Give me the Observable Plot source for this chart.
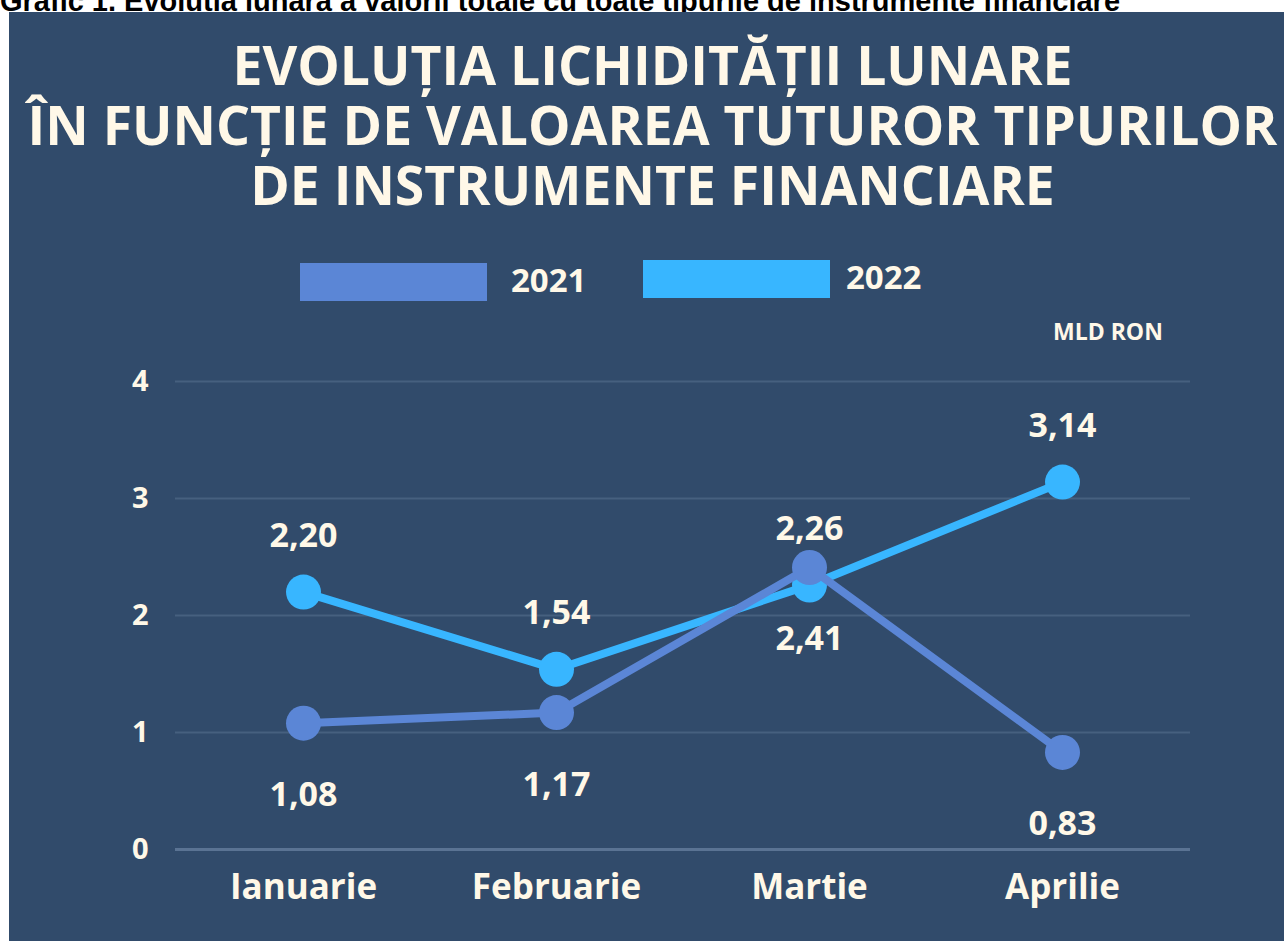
<!DOCTYPE html>
<html>
<head>
<meta charset="utf-8">
<script src="https://cdn.jsdelivr.net/npm/d3@7"></script>
<script src="https://cdn.jsdelivr.net/npm/@observablehq/plot@0.6"></script>
<style>
  html, body { margin: 0; padding: 0; background: #ffffff; width: 1284px; height: 941px; overflow: hidden; position: relative; }
  #caption { position: absolute; left: 0; top: -15px; line-height: 29px; font: bold 29px "Liberation Sans", Arial, sans-serif; color: #000; white-space: nowrap; }
  #panel { position: absolute; left: 9px; top: 12px; width: 1275px; height: 929px; background: #314B6B; overflow: hidden; }
  .tline { position: absolute; left: 0; width: 1275px; text-align: center; font-family: "Open Sans", sans-serif; font-weight: 700; font-size: 53.5px; line-height: 56px; height: 56px; color: #FFF8E8; padding-left: 12px; box-sizing: border-box; white-space: nowrap; }
  .swatch { position: absolute; height: 38px; width: 187px; }
  .legtxt { position: absolute; font-family: "Open Sans", sans-serif; font-weight: 700; font-size: 33px; line-height: 38px; color: #FFF8E8; }
  #unit { position: absolute; left: 1044px; top: 306px; font-family: "Open Sans", sans-serif; font-weight: 700; font-size: 23px; line-height: 26px; color: #FFF8E8; }
  #chart { position: absolute; left: 0; top: 328px; }
</style>
</head>
<body>
<div id="caption">Grafic 1. Evoluția lunară a valorii totale cu toate tipurile de instrumente financiare</div>
<div id="panel">
  <div class="tline" style="top:25px">EVOLUȚIA LICHIDITĂȚII LUNARE</div>
  <div class="tline" style="top:85px">ÎN FUNCȚIE DE VALOAREA TUTUROR TIPURILOR</div>
  <div class="tline" style="top:145px">DE INSTRUMENTE FINANCIARE</div>
  <div id="legend"></div>
  <div id="unit">MLD RON</div>
  <div id="chart"></div>
</div>
<script>
const months = ["Ianuarie", "Februarie", "Martie", "Aprilie"];
const series = ["2021", "2022"];
const values2021 = [1.08, 1.17, 2.41, 0.83];
const values2022 = [2.20, 1.54, 2.26, 3.14];
const yTicks = [0, 1, 2, 3, 4];
const colors = {"2021": "#5B86D6", "2022": "#38B6FF"};
const cream = "#FFF8E8";

// legend
const legend = document.getElementById("legend");
const legPos = [{sx: 291, sy: 251, tx: 502}, {sx: 634, sy: 248, tx: 837}];
series.forEach((s, i) => {
  const p = legPos[i];
  const sw = document.createElement("div");
  sw.className = "swatch";
  sw.style.left = p.sx + "px"; sw.style.top = p.sy + "px"; sw.style.background = colors[s];
  legend.appendChild(sw);
  const t = document.createElement("div");
  t.className = "legtxt";
  t.style.left = p.tx + "px"; t.style.top = (p.sy - 2) + "px";
  t.textContent = s;
  legend.appendChild(t);
});

const data2021 = months.map((m, i) => ({month: m, value: values2021[i], series: "2021"}));
const data2022 = months.map((m, i) => ({month: m, value: values2022[i], series: "2022"}));
const fmt = v => d3.format(".2f")(v).replace(".", ",");

const chart = Plot.plot({
  width: 1275,
  height: 600,
  marginLeft: 166,
  marginRight: 94,
  marginTop: 41,
  marginBottom: 91,
  style: {background: "transparent", color: cream, fontFamily: "Open Sans, sans-serif", fontWeight: "bold", overflow: "visible"},
  x: {type: "point", domain: months, padding: 0.5},
  y: {domain: [0, 4]},
  marks: [
    Plot.ruleY([1, 2, 3, 4], {stroke: "#46607F", strokeWidth: 2}),
    Plot.ruleY([0], {stroke: "#5A7393", strokeWidth: 3}),
    Plot.axisY({ticks: yTicks, tickSize: 0, tickPadding: 27, fontSize: 29, fontWeight: "bold", tickFormat: d => String(d), label: null}),
    Plot.axisX({tickSize: 0, tickPadding: 25, fontSize: 35, fontWeight: "bold", label: null}),
    Plot.line(data2022, {x: "month", y: "value", stroke: colors["2022"], strokeWidth: 8}),
    Plot.dot(data2022, {x: "month", y: "value", r: 17.5, fill: colors["2022"]}),
    Plot.line(data2021, {x: "month", y: "value", stroke: colors["2021"], strokeWidth: 8}),
    Plot.dot(data2021, {x: "month", y: "value", r: 17.5, fill: colors["2021"]}),
    Plot.text(data2022, {x: "month", y: "value", text: d => fmt(d.value), dy: -56, fontSize: 34, fontWeight: "bold", fill: cream}),
    Plot.text(data2021, {x: "month", y: "value", text: d => fmt(d.value), dy: 72, fontSize: 34, fontWeight: "bold", fill: cream})
  ]
});
document.getElementById("chart").appendChild(chart);
</script>
</body>
</html>
